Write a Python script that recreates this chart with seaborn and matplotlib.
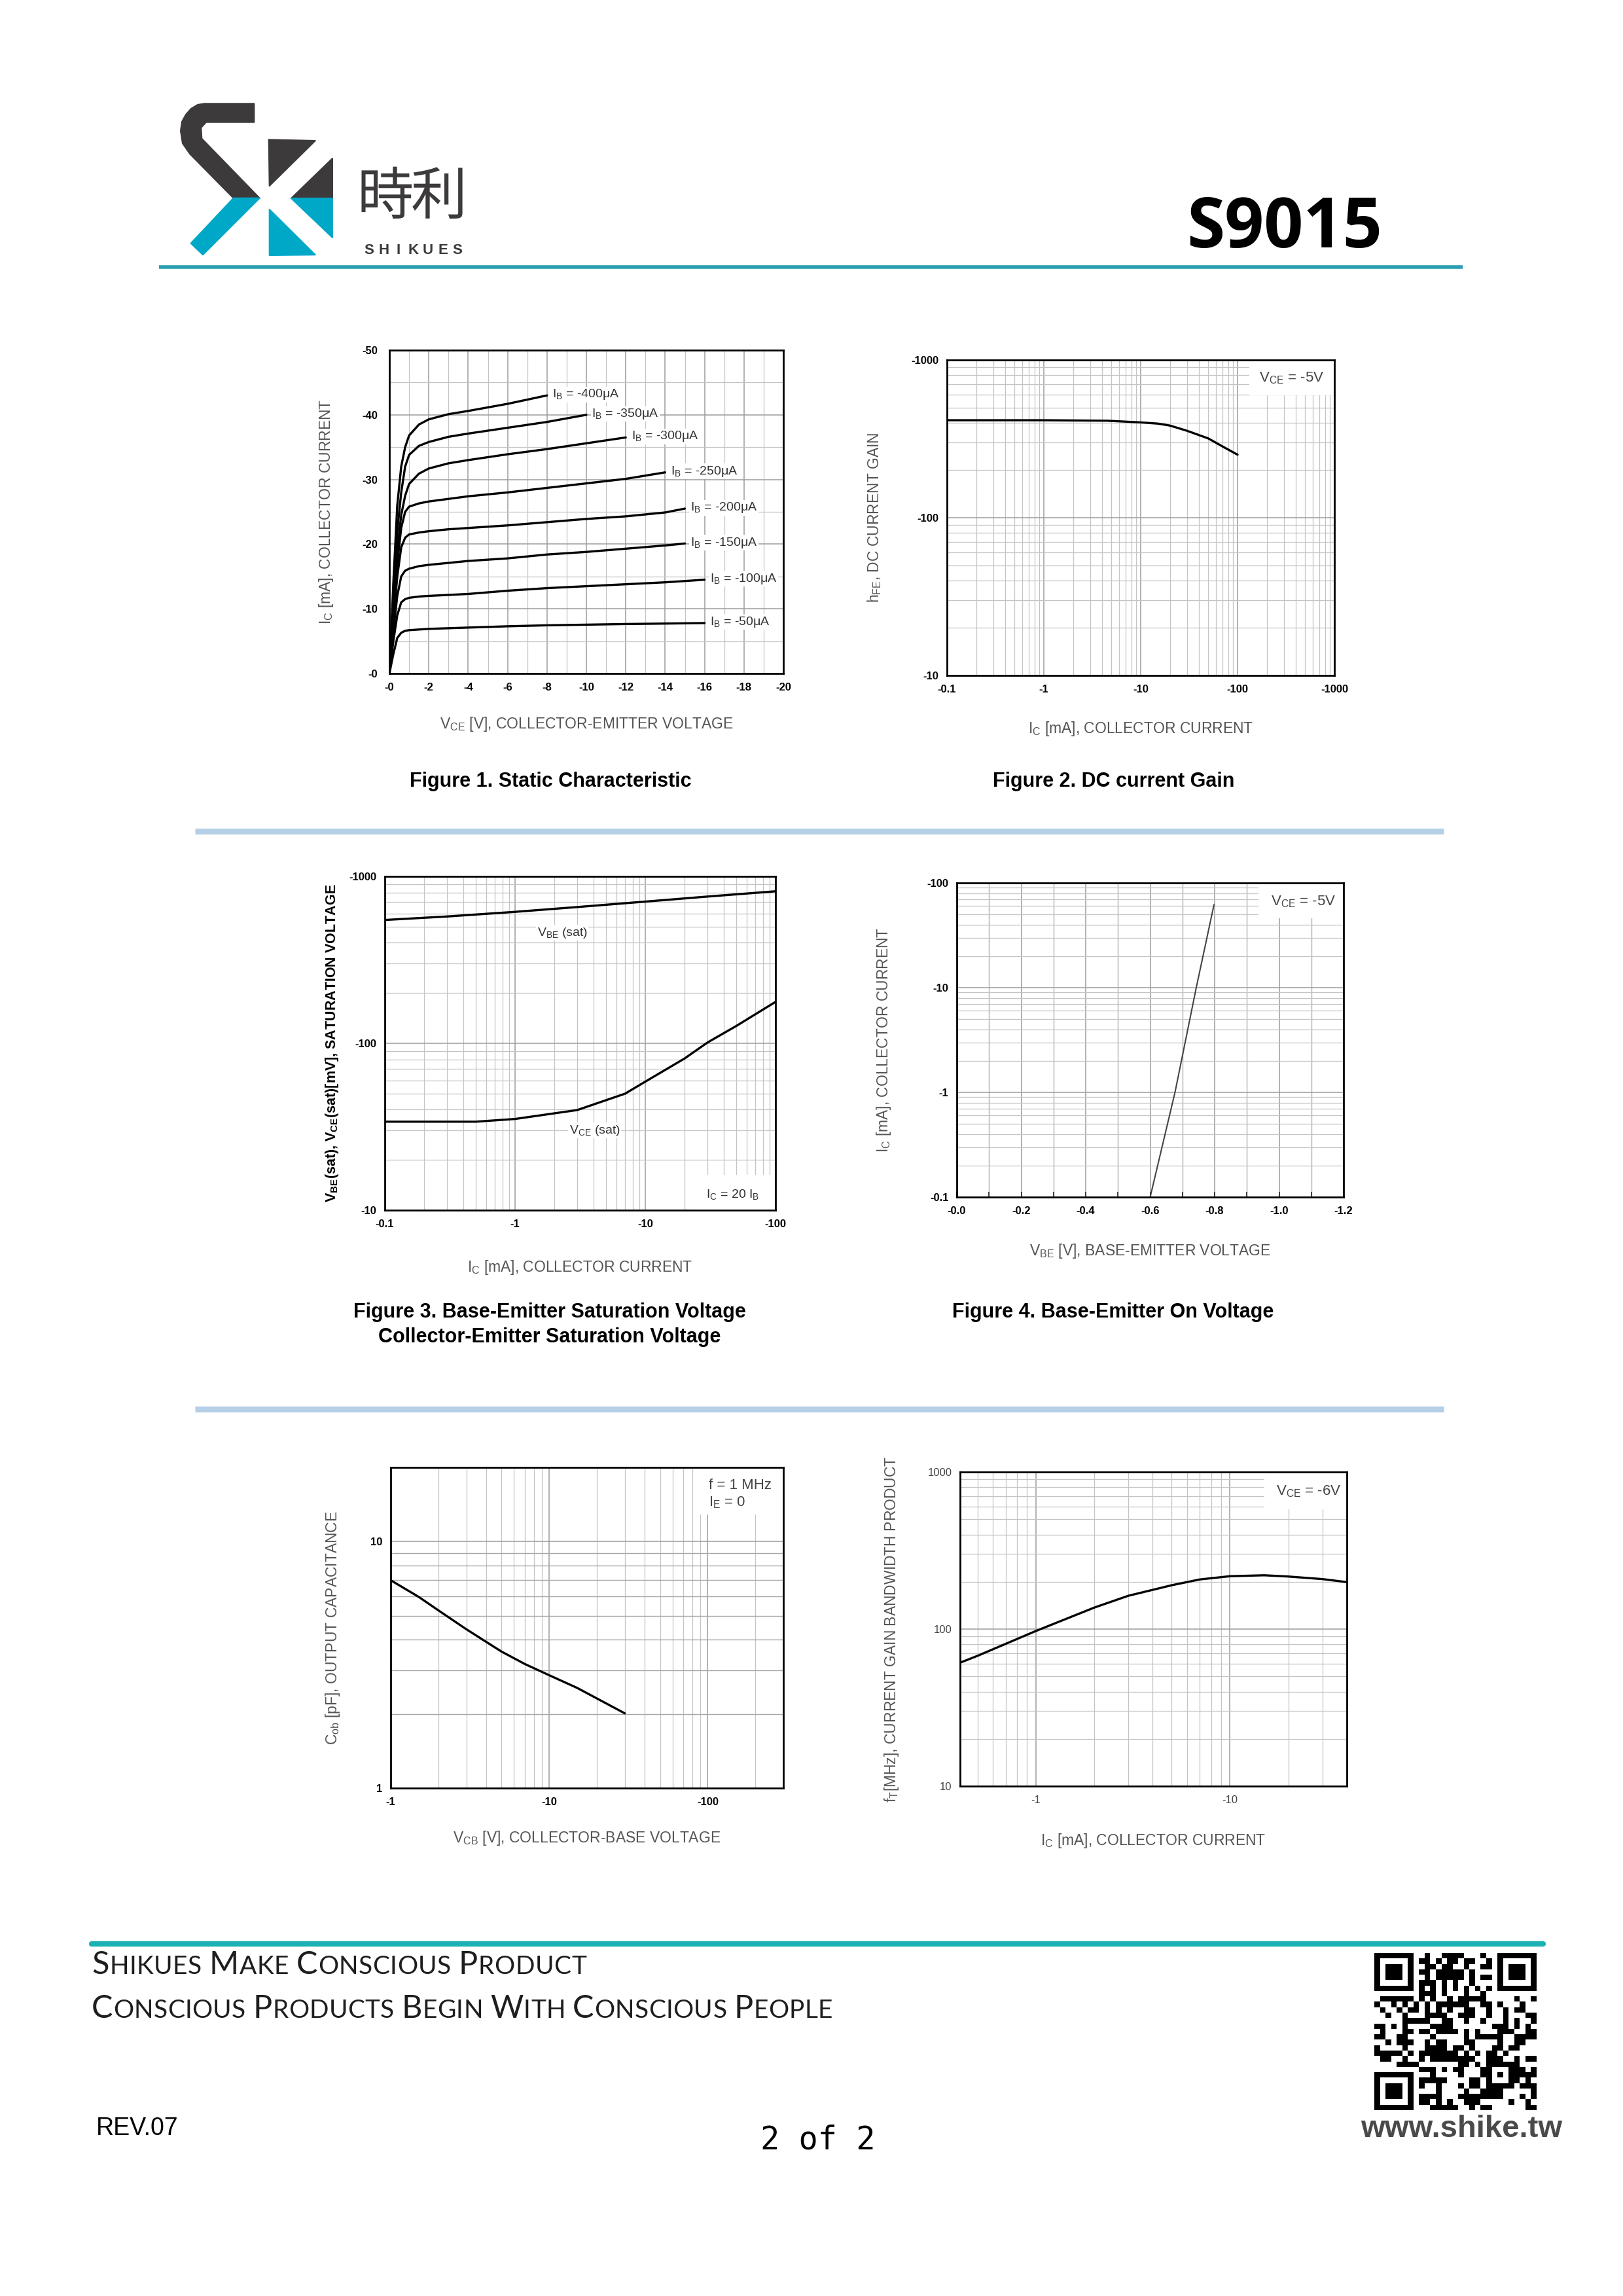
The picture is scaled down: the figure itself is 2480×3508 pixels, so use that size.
import hashlib

import numpy as np
import pandas as pd
import matplotlib
matplotlib.use("Agg")
import matplotlib.pyplot as plt
import seaborn as sns
from matplotlib import font_manager
from matplotlib.patches import Polygon, Rectangle
from matplotlib.ticker import FixedLocator, MultipleLocator, NullFormatter

W, H = 2480, 3508

# ---------------- data ----------------
# Figure 1: static characteristic, |Vce| [V] vs |Ic| [mA] per base current
ib_values = [400, 350, 300, 250, 200, 150, 100, 50]
vce_400 = [0, 0.2, 0.4, 0.6, 0.8, 1.0, 1.5, 2, 3, 4, 6, 8]
ic_400 = [0, 14, 26, 32, 35, 36.8, 38.5, 39.3, 40.1, 40.6, 41.7, 43.0]
vce_350 = [0, 0.2, 0.4, 0.6, 0.8, 1.0, 1.5, 2, 3, 4, 6, 8, 10]
ic_350 = [0, 12, 22, 28, 32, 33.8, 35.2, 35.8, 36.6, 37.1, 38.0, 38.9, 40.0]
vce_300 = [0, 0.2, 0.4, 0.6, 0.8, 1.0, 1.5, 2, 3, 4, 6, 8, 10, 12]
ic_300 = [0, 10, 19, 24.5, 27.5, 29.3, 30.9, 31.7, 32.5, 33.0, 33.9, 34.7, 35.6, 36.5]
vce_250 = [0, 0.2, 0.4, 0.6, 0.8, 1.0, 1.5, 2, 3, 4, 6, 8, 10, 12, 14]
ic_250 = [0, 9, 17, 22.5, 25, 25.8, 26.3, 26.6, 27.0, 27.4, 28.0, 28.7, 29.4, 30.1, 31.1]
vce_200 = [0, 0.2, 0.4, 0.6, 0.8, 1.0, 1.5, 2, 3, 4, 6, 8, 10, 12, 14, 15]
ic_200 = [0, 8, 15, 19.5, 21, 21.5, 21.8, 22.0, 22.3, 22.5, 22.9, 23.4, 23.9, 24.3, 24.9, 25.5]
vce_150 = [0, 0.2, 0.4, 0.6, 0.8, 1.0, 1.5, 2, 3, 4, 6, 8, 10, 12, 14, 15]
ic_150 = [0, 6.5, 12, 15, 15.9, 16.2, 16.6, 16.8, 17.1, 17.4, 17.8, 18.4, 18.8, 19.3, 19.8, 20.1]
vce_100 = [0, 0.2, 0.4, 0.6, 0.8, 1.0, 1.5, 2, 4, 6, 8, 10, 12, 14, 16]
ic_100 = [0, 5, 9, 11, 11.5, 11.7, 11.9, 12.0, 12.3, 12.8, 13.2, 13.5, 13.8, 14.1, 14.5]
vce_50 = [0, 0.2, 0.4, 0.6, 0.8, 1.0, 2, 4, 6, 8, 10, 12, 14, 16]
ic_50 = [0, 3, 5.5, 6.3, 6.6, 6.7, 6.9, 7.1, 7.3, 7.45, 7.55, 7.65, 7.72, 7.8]
f1_xticks = [0, 2, 4, 6, 8, 10, 12, 14, 16, 18, 20]
f1_xlabels = ['-0', '-2', '-4', '-6', '-8', '-10', '-12', '-14', '-16', '-18', '-20']
f1_yticks = [0, 10, 20, 30, 40, 50]
f1_ylabels = ['-0', '-10', '-20', '-30', '-40', '-50']

# Figure 2: DC current gain
hfe_ic = [0.1, 1, 4.5, 10, 15, 20, 30, 50, 70, 100]
hfe = [415, 415, 412, 402, 395, 384, 356, 318, 283, 251]
f2_xticks = [0.1, 1, 10, 100, 1000]
f2_xlabels = ['-0.1', '-1', '-10', '-100', '-1000']
f2_yticks = [10, 100, 1000]
f2_ylabels = ['-10', '-100', '-1000']

# Figure 3: saturation voltages [mV]
vbe_ic = [0.1, 0.3, 1, 3, 10, 30, 100]
vbe_sat = [548, 575, 613, 655, 706, 757, 814]
vce_ic = [0.1, 0.5, 1, 3, 7, 10, 20, 30, 50, 100]
vce_sat = [33.9, 33.9, 35.2, 39.8, 49.9, 58.9, 81, 101, 127, 177]
f3_xticks = [0.1, 1, 10, 100]
f3_xlabels = ['-0.1', '-1', '-10', '-100']
f3_yticks = [10, 100, 1000]
f3_ylabels = ['-10', '-100', '-1000']

# Figure 4: base-emitter on voltage
vbe_on = [0.600, 0.677, 0.743, 0.798]
ic_on = [0.1, 1, 10, 62]
f4_xticks = [0, 0.2, 0.4, 0.6, 0.8, 1.0, 1.2]
f4_xlabels = ['-0.0', '-0.2', '-0.4', '-0.6', '-0.8', '-1.0', '-1.2']
f4_yticks = [0.1, 1, 10, 100]
f4_ylabels = ['-0.1', '-1', '-10', '-100']

# Figure 5: output capacitance
vcb = [1, 1.5, 2, 3, 5, 7, 10, 15, 20, 30]
cob = [6.97, 5.97, 5.26, 4.41, 3.58, 3.19, 2.87, 2.55, 2.31, 2.01]
f5_xticks = [1, 10, 100]
f5_xlabels = ['-1', '-10', '-100']
f5_yticks = [1, 10]
f5_ylabels = ['1', '10']

# Figure 6: current gain bandwidth product
ft_ic = [0.41, 0.5, 1, 2, 3, 5, 7, 10, 15, 20, 30, 40]
ft = [61.3, 67.5, 97.2, 137, 163, 190, 207, 217, 220, 216, 208, 199]
f6_xticks = [1, 10]
f6_xlabels = ['-1', '-10']
f6_yticks = [10, 100, 1000]
f6_ylabels = ['10', '100', '1000']

# ---------------- fonts / theme ----------------
sns.set_style("white")
available = {f.name for f in font_manager.fontManager.ttflist}


def pick(*names):
    for n in names:
        if n in available:
            return n
    return 'DejaVu Sans'


SANS = pick('Liberation Sans', 'Arial')
HEAD = pick('Open Sans', 'Liberation Sans')
LIGHT = pick('Lato', 'Open Sans')
CJK = ['Noto Sans CJK SC', 'Noto Sans CJK JP', 'Noto Sans CJK TC', 'DejaVu Sans']
plt.rcParams['font.family'] = [SANS, 'DejaVu Sans']
plt.rcParams['mathtext.default'] = 'regular'

fig = plt.figure(figsize=(W / 100, H / 100), dpi=100)
fig.patch.set_facecolor('white')

# page layer in pixel coordinates
pax = fig.add_axes([0, 0, 1, 1], zorder=-5)
pax.axis('off')


def axes_px(left, top, right, bottom):
    return fig.add_axes([left / W, 1 - bottom / H, (right - left) / W, (bottom - top) / H])


def style(ax, box, xt, xl, yt, yl, xoff, yoff, xlabel, ylabel,
          bold_ticks=True, ylabel_bold=False):
    l, t, r, b = box
    ax.set_xticks(xt, labels=xl)
    ax.set_yticks(yt, labels=yl)
    ax.xaxis.set_minor_formatter(NullFormatter())
    ax.yaxis.set_minor_formatter(NullFormatter())
    for s in ax.spines.values():
        s.set_visible(True)
        s.set_color('black')
        s.set_linewidth(2.0)
    ax.tick_params(which='both', length=0)
    ax.tick_params(axis='x', pad=10)
    ax.tick_params(axis='y', pad=9)
    for lab in ax.get_xticklabels() + ax.get_yticklabels():
        lab.set_fontsize(12)
        lab.set_fontweight('bold' if bold_ticks else 'normal')
        lab.set_color('black' if bold_ticks else '#444444')
    ax.grid(which='major', color='#9c9c9c', lw=1.1)
    ax.grid(which='minor', color='#c4c4c4', lw=0.9)
    ax.set_axisbelow(True)
    ax.set_xlabel(xlabel, fontsize=16.5, color='#555555', va='center')
    ax.xaxis.set_label_coords(0.5, -xoff / (b - t))
    if ylabel_bold:
        ax.set_ylabel(ylabel, fontsize=15.5, color='black', fontweight='bold', va='center')
    else:
        ax.set_ylabel(ylabel, fontsize=16.5, color='#555555', va='center')
    ax.yaxis.set_label_coords(-yoff / (r - l), 0.5)


def white_box(ax, x0, y0, x1=1.0, y1=1.0):
    ax.add_patch(Rectangle((x0, y0), x1 - x0, y1 - y0, transform=ax.transAxes,
                           facecolor='white', edgecolor='none', zorder=1))


note_kw = dict(fontsize=16, color='#444444', va='center', ha='left', zorder=3)

# ---------------- Figure 1 ----------------
box1 = (595, 535, 1197, 1029)
ax1 = axes_px(*box1)
curves1 = [(400, vce_400, ic_400), (350, vce_350, ic_350), (300, vce_300, ic_300),
           (250, vce_250, ic_250), (200, vce_200, ic_200), (150, vce_150, ic_150),
           (100, vce_100, ic_100), (50, vce_50, ic_50)]
df1 = pd.concat([pd.DataFrame({'vce': v, 'ic': i, 'ib': ib}) for ib, v, i in curves1],
                ignore_index=True)
sns.lineplot(data=df1, x='vce', y='ic', units='ib', estimator=None, sort=False,
             color='black', lw=2.4, ax=ax1)
for ib, v, i in curves1:
    ax1.annotate('I$_B$ = -%dμA' % ib, xy=(v[-1], i[-1]), xytext=(6, 1),
                 textcoords='offset points', va='center', ha='left', fontsize=14,
                 color='#333333', zorder=3,
                 bbox=dict(facecolor='white', edgecolor='none', pad=1))
ax1.set_xlim(0, 20)
ax1.set_ylim(0, 50)
ax1.xaxis.set_minor_locator(MultipleLocator(1))
ax1.yaxis.set_minor_locator(MultipleLocator(5))
style(ax1, box1, f1_xticks, f1_xlabels, f1_yticks, f1_ylabels, 77, 96,
      'V$_{CE}$ [V], COLLECTOR-EMITTER VOLTAGE', 'I$_C$ [mA], COLLECTOR CURRENT')
ax1.tick_params(axis='y', pad=13)

# ---------------- Figure 2 ----------------
box2 = (1447, 550, 2039, 1032)
ax2 = axes_px(*box2)
sns.lineplot(x=hfe_ic, y=hfe, color='black', lw=2.4, ax=ax2)
ax2.set_xscale('log')
ax2.set_yscale('log')
ax2.set_xlim(0.1, 1000)
ax2.set_ylim(10, 1000)
style(ax2, box2, f2_xticks, f2_xlabels, f2_yticks, f2_ylabels, 82, 111,
      'I$_C$ [mA], COLLECTOR CURRENT', 'h$_{FE}$, DC CURRENT GAIN')
white_box(ax2, 0.78, 0.888)
ax2.text(0.806, 0.942, 'V$_{CE}$ = -5V', transform=ax2.transAxes, **note_kw)

# ---------------- Figure 3 ----------------
box3 = (588, 1339, 1185, 1849)
ax3 = axes_px(*box3)
sns.lineplot(x=vbe_ic, y=vbe_sat, color='black', lw=2.4, ax=ax3)
sns.lineplot(x=vce_ic, y=vce_sat, color='black', lw=2.4, ax=ax3)
ax3.set_xscale('log')
ax3.set_yscale('log')
ax3.set_xlim(0.1, 100)
ax3.set_ylim(10, 1000)
style(ax3, box3, f3_xticks, f3_xlabels, f3_yticks, f3_ylabels, 87, 81,
      'I$_C$ [mA], COLLECTOR CURRENT',
      'V$_{BE}$(sat), V$_{CE}$(sat)[mV], SATURATION VOLTAGE', ylabel_bold=True)
white_box(ax3, 0.78, 0.0, 1.0, 0.105)
lbl3 = dict(fontsize=14, color='#333333', va='center', ha='left', zorder=3,
            bbox=dict(facecolor='white', edgecolor='none', pad=1))
ax3.text(0.39, 0.831, 'V$_{BE}$ (sat)', transform=ax3.transAxes, **lbl3)
ax3.text(0.472, 0.239, 'V$_{CE}$ (sat)', transform=ax3.transAxes, **lbl3)
ax3.text(0.822, 0.047, 'I$_C$ = 20 I$_B$', transform=ax3.transAxes, **lbl3)

# ---------------- Figure 4 ----------------
box4 = (1462, 1349, 2053, 1829)
ax4 = axes_px(*box4)
sns.lineplot(x=vbe_on, y=ic_on, color='#444444', lw=1.5, ax=ax4)
ax4.set_yscale('log')
ax4.set_xlim(0, 1.2)
ax4.set_ylim(0.1, 100)
ax4.xaxis.set_minor_locator(MultipleLocator(0.1))
style(ax4, box4, f4_xticks, f4_xlabels, f4_yticks, f4_ylabels, 82, 112,
      'V$_{BE}$ [V], BASE-EMITTER VOLTAGE', 'I$_C$ [mA], COLLECTOR CURRENT')
ax4.tick_params(axis='x', which='both', direction='in', length=6, width=1.2, bottom=True)
ax4.grid(which='minor', axis='x', color='#b0b0b0', lw=1.0)
white_box(ax4, 0.78, 0.888)
ax4.text(0.813, 0.94, 'V$_{CE}$ = -5V', transform=ax4.transAxes, **note_kw)

# ---------------- Figure 5 ----------------
box5 = (597, 2242, 1197, 2732)
ax5 = axes_px(*box5)
sns.lineplot(x=vcb, y=cob, color='black', lw=2.4, ax=ax5)
ax5.set_xscale('log')
ax5.set_yscale('log')
ax5.set_xlim(1, 300)
ax5.set_ylim(1, 20)
ax5.yaxis.set_minor_locator(FixedLocator([2, 3, 4, 5, 6, 7, 8, 9]))
style(ax5, box5, f5_xticks, f5_xlabels, f5_yticks, f5_ylabels, 76, 88,
      'V$_{CB}$ [V], COLLECTOR-BASE VOLTAGE', 'C$_{ob}$ [pF], OUTPUT CAPACITANCE')
ax5.grid(which='minor', axis='y', color='#a8a8a8', lw=1.0)
white_box(ax5, 0.785, 0.853)
ax5.text(0.81, 0.943, 'f = 1 MHz', transform=ax5.transAxes, **note_kw)
ax5.text(0.81, 0.89, 'I$_E$ = 0', transform=ax5.transAxes, **note_kw)

# ---------------- Figure 6 ----------------
box6 = (1467, 2249, 2058, 2729)
ax6 = axes_px(*box6)
sns.lineplot(x=ft_ic, y=ft, color='black', lw=2.4, ax=ax6)
ax6.set_xscale('log')
ax6.set_yscale('log')
ax6.set_xlim(0.407, 40)
ax6.set_ylim(10, 1000)
style(ax6, box6, f6_xticks, f6_xlabels, f6_yticks, f6_ylabels, 83, 104,
      'I$_C$ [mA], COLLECTOR CURRENT', 'f$_T$[MHz], CURRENT GAIN BANDWIDTH PRODUCT',
      bold_ticks=False)
white_box(ax6, 0.786, 0.881)
ax6.text(0.817, 0.939, 'V$_{CE}$ = -6V', transform=ax6.transAxes, **note_kw)

# ---------------- page furniture ----------------
title_kw = dict(fontsize=22, fontweight='bold', color='black', ha='center', va='center')
pax.text(841, 1194, 'Figure 1. Static Characteristic', **title_kw)
pax.text(1702, 1194, 'Figure 2. DC current Gain', **title_kw)
pax.text(840, 2005, 'Figure 3. Base-Emitter Saturation Voltage', **title_kw)
pax.text(840, 2043, 'Collector-Emitter Saturation Voltage', **title_kw)
pax.text(1701, 2005, 'Figure 4. Base-Emitter On Voltage', **title_kw)

for yy in (1270, 2153):
    pax.plot([298, 2206], [yy, yy], color='#b5d0e6', lw=6.5, solid_capstyle='butt')

# header
pax.plot([243, 2235], [408, 408], color='#2a9fb3', lw=4, solid_capstyle='butt')
dark, teal = '#3d3a3b', '#00a8c8'
logo_dark = [
    [(312, 158.3), (388.3, 158.3), (388.3, 186.7), (315, 186.7), (307.3, 195),
     (308.3, 211.7), (396.7, 302.7), (356.7, 302.7), (290, 235), (279, 219),
     (276, 200), (278, 186), (284, 175), (292, 166), (302, 160)],
    [(410.7, 213.3), (481.7, 215), (411.7, 284)],
    [(508.3, 241.7), (508.3, 302.7), (445, 302.7)],
]
logo_teal = [
    [(356.7, 302.7), (396.7, 302.7), (310, 389.3), (291.7, 371.7)],
    [(445, 303.3), (508.3, 303.3), (508.3, 363.3)],
    [(411.7, 320), (481.7, 389.3), (411.7, 390)],
]
for pts in logo_dark:
    pax.add_patch(Polygon(pts, closed=True, facecolor=dark, edgecolor=dark, lw=1.5,
                          joinstyle='round'))
for pts in logo_teal:
    pax.add_patch(Polygon(pts, closed=True, facecolor=teal, edgecolor=teal, lw=1.5,
                          joinstyle='round'))
pax.text(589, 303, '時', fontsize=62, family=CJK, color=dark, ha='center', va='center')
pax.text(671, 303, '利', fontsize=62, family=CJK, color=dark, ha='center', va='center')
for k, ch in enumerate('SHIKUES'):
    pax.text(563.5 + 22.6 * k, 388, ch, fontsize=16, fontweight='bold', color=dark,
             ha='center', va='baseline')
pax.text(2112, 378, 'S9015', fontsize=76, fontweight='bold', family=[HEAD, SANS],
         color='black', ha='right', va='baseline')

# footer
pax.plot([140, 2358], [2970, 2970], color='#1cb1b3', lw=6, solid_capstyle='round')

renderer = fig.canvas.get_renderer()


def small_caps(x, y, text, big, target_w):
    pieces = []
    for wi, word in enumerate(text.split(' ')):
        if wi:
            pieces.append((' ', big))
        pieces.append((word[0], big))
        pieces.extend((c, big * 0.8) for c in word[1:].upper())
    kw = dict(family=[LIGHT, SANS], fontweight='normal', color='#1e1e1e')
    widths = []
    for ch, fs in pieces:
        if ch == ' ':
            widths.append(fs * 100 / 72 * 0.22)
        else:
            t = pax.text(0, 0, ch, fontsize=fs, **kw)
            widths.append(t.get_window_extent(renderer).width)
            t.remove()
    extra = (target_w - sum(widths)) / (len(pieces) - 1)
    cx = x
    for (ch, fs), w in zip(pieces, widths):
        if ch != ' ':
            pax.text(cx, y, ch, fontsize=fs, ha='left', va='baseline', **kw)
        cx += w + extra


small_caps(140, 3016, 'Shikues Make Conscious Product', 35, 756)
small_caps(140, 3083, 'Conscious Products Begin With Conscious People', 35, 1132)

pax.text(147, 3262, 'REV.07', fontsize=27, color='black', ha='left', va='baseline')
pax.text(1250, 3283, '2 of 2', fontsize=35, family=['DejaVu Sans Mono'], color='black',
         ha='center', va='baseline')
pax.text(2233, 3265, 'www.shike.tw', fontsize=34, fontweight='bold', color='#4a4a4a',
         ha='center', va='baseline')

# QR-style code block
N = 29
qr = np.zeros((N, N), dtype=int)
bits = ''.join(f'{b:08b}' for k in range(4)
               for b in hashlib.sha256(f'www.shike.tw#{k}'.encode()).digest())
for r in range(N):
    for c in range(N):
        qr[r, c] = int(bits[(r * N + c) % len(bits)])
for r0, c0 in ((0, 0), (0, N - 7), (N - 7, 0)):
    rs, cs = max(r0 - 1, 0), max(c0 - 1, 0)
    qr[rs:r0 + 8, cs:c0 + 8] = 0
    qr[r0:r0 + 7, c0:c0 + 7] = 1
    qr[r0 + 1:r0 + 6, c0 + 1:c0 + 6] = 0
    qr[r0 + 2:r0 + 5, c0 + 2:c0 + 5] = 1
qr[6, 8:N - 8] = (np.arange(8, N - 8) + 1) % 2
qr[8:N - 8, 6] = (np.arange(8, N - 8) + 1) % 2
qr[20:25, 20:25] = 1
qr[21:24, 21:24] = 0
qr[22, 22] = 1
pax.imshow(qr, cmap='gray_r', vmin=0, vmax=1, interpolation='nearest', aspect='auto',
           extent=(2100, 2348, 3224, 2984))

pax.set_xlim(0, W)
pax.set_ylim(H, 0)

fig.savefig('out.png', dpi=100, facecolor='white')
